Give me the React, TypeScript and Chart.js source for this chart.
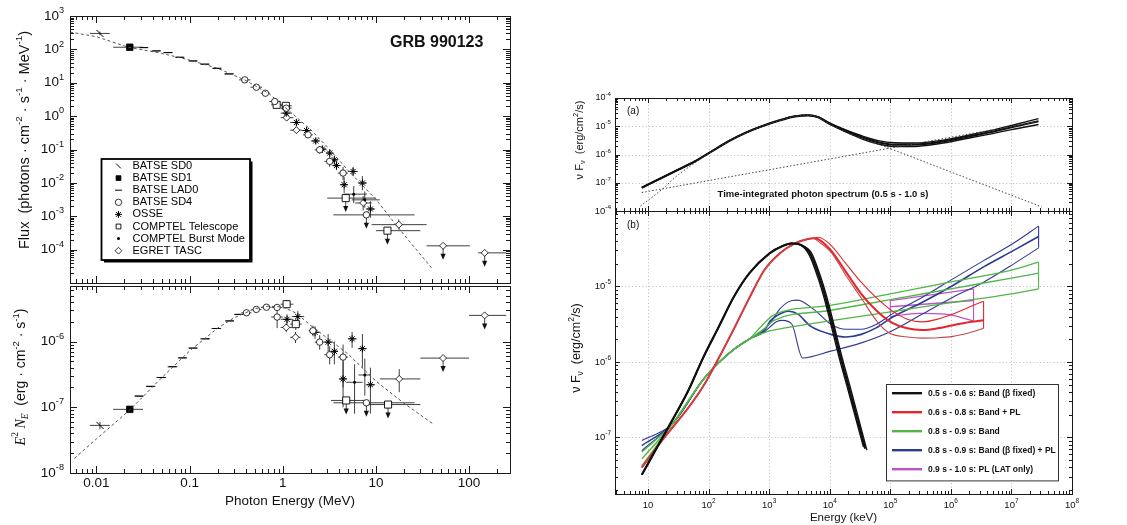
import { useEffect, useRef } from "react";
import { Chart, registerables } from "chart.js";
import { drawPoint } from "chart.js/helpers";

Chart.register(...registerables);

type Pt = { x: number; y: number; xl?: number; xh?: number; yl?: number; yh?: number; ul?: boolean };
type XY = [number, number];
type Run = { t: string; k?: "sup" | "sub"; it?: boolean; serif?: boolean; b?: boolean };

// ================= LEFT PANEL : GRB 990123 =================
const leftXTicks = [0.01, 0.1, 1, 10, 100];
const leftXTickLabels = ["0.01", "0.1", "1", "10", "100"];
const fluxYTicks = [1e3, 1e2, 1e1, 1, 1e-1, 1e-2, 1e-3, 1e-4];
const fluxYExps = ["3", "2", "1", "0", "-1", "-2", "-3", "-4"];
const nufYTicks = [1e-6, 1e-7, 1e-8];
const nufYExps = ["-6", "-7", "-8"];

const instrumentNames = [
  "BATSE SD0", "BATSE SD1", "BATSE LAD0", "BATSE SD4",
  "OSSE", "COMPTEL Telescope", "COMPTEL Burst Mode", "EGRET TASC",
];

// dashed Band model, photon flux
const fluxModelE = [0.0052, 0.01, 0.022, 0.05, 0.1, 0.2, 0.39, 0.7, 1, 2, 3, 5, 10, 20, 41];
const fluxModelF = [330, 240, 116, 76, 48, 27, 12.2, 4.9, 2.1, 0.39, 0.12, 0.024, 0.0032, 2.8e-4, 2.5e-5];
// dashed Band model, E^2 N_E
const nufModelE = [0.0058, 0.01, 0.0228, 0.05, 0.1, 0.2, 0.3, 0.5, 0.7, 1.0, 1.4, 2, 5, 10, 20, 41];
const nufModelV = [1.67e-8, 3.3e-8, 9.1e-8, 2.8e-7, 7.2e-7, 1.6e-6, 2.3e-6, 3.15e-6, 3.45e-6, 3.35e-6, 2.7e-6, 1.75e-6, 6.5e-7, 2.5e-7, 1.15e-7, 5.6e-8];

// ---- photon flux points ----
const fluxSD0: Pt[] = [{ x: 0.0109, y: 300, xl: 0.0085, xh: 0.0139, yl: 265, yh: 340 }];
const fluxSD1: Pt[] = [{ x: 0.0228, y: 116, xl: 0.0151, xh: 0.0316 }];
const fluxLAD0: Pt[] = [
  { x: 0.0322, y: 113, xl: 0.029, xh: 0.036 }, { x: 0.0441, y: 90, xl: 0.039, xh: 0.049 },
  { x: 0.0588, y: 80, xl: 0.052, xh: 0.066 }, { x: 0.0784, y: 58, xl: 0.07, xh: 0.088 },
  { x: 0.109, y: 45, xl: 0.097, xh: 0.122 }, { x: 0.146, y: 36, xl: 0.13, xh: 0.164 },
  { x: 0.197, y: 27, xl: 0.175, xh: 0.22 }, { x: 0.265, y: 18.4, xl: 0.235, xh: 0.3 },
];
const fluxSD4: Pt[] = [
  { x: 0.391, y: 12.2, xl: 0.34, xh: 0.45 }, { x: 0.521, y: 7.35, xl: 0.45, xh: 0.6 },
  { x: 0.651, y: 4.86, xl: 0.58, xh: 0.73 }, { x: 0.82, y: 2.74, xl: 0.72, xh: 0.94, yl: 2.3, yh: 3.2 },
  { x: 1.09, y: 1.73, xl: 0.95, xh: 1.25, yl: 1.4, yh: 2.1 }, { x: 1.87, y: 0.275, xl: 1.65, xh: 2.1, yl: 0.22, yh: 0.34 },
  { x: 2.49, y: 0.098, xl: 2.2, xh: 2.8, yl: 0.075, yh: 0.125 }, { x: 3.19, y: 0.044, xl: 2.8, xh: 3.6, yl: 0.03, yh: 0.06 },
  { x: 4.44, y: 0.0197, xl: 3.9, xh: 5.0, yl: 0.012, yh: 0.03 }, { x: 7.9, y: 0.0011, xl: 3.5, xh: 26, ul: true },
];
const fluxOSSE: Pt[] = [
  { x: 1.09, y: 1.23, xl: 0.95, xh: 1.25, yl: 1.0, yh: 1.5 }, { x: 1.4, y: 0.645, xl: 1.2, xh: 1.6, yl: 0.5, yh: 0.8 },
  { x: 1.8, y: 0.37, xl: 1.6, xh: 2.0, yl: 0.3, yh: 0.45 }, { x: 2.26, y: 0.18, xl: 2.0, xh: 2.5, yl: 0.15, yh: 0.22 },
  { x: 2.66, y: 0.103, xl: 2.4, xh: 2.95, yl: 0.08, yh: 0.13 }, { x: 3.19, y: 0.078, xl: 2.9, xh: 3.5, yl: 0.06, yh: 0.1 },
  { x: 3.58, y: 0.049, xl: 3.3, xh: 3.9, yl: 0.035, yh: 0.065 }, { x: 3.77, y: 0.033, xl: 3.4, xh: 4.2, yl: 0.024, yh: 0.045 },
  { x: 4.56, y: 0.0088, xl: 4.1, xh: 5.0, yl: 0.005, yh: 0.015 }, { x: 5.69, y: 0.022, xl: 5.0, xh: 6.4, yl: 0.016, yh: 0.03 },
  { x: 7.16, y: 0.0099, xl: 6.4, xh: 8.0, yl: 0.006, yh: 0.016 }, { x: 8.73, y: 0.00165, xl: 7.8, xh: 9.8, yl: 0.0009, yh: 0.0028 },
];
const fluxCompTel: Pt[] = [
  { x: 0.86, y: 2.18, xl: 0.75, xh: 1.0, yl: 1.8, yh: 2.6 }, { x: 1.08, y: 2.03, xl: 0.95, xh: 1.25, yl: 1.7, yh: 2.4 },
  { x: 4.74, y: 0.0035, xl: 3.0, xh: 10, ul: true }, { x: 13.3, y: 0.00037, xl: 10, xh: 30, ul: true },
];
const fluxCompBurst: Pt[] = [
  { x: 5.78, y: 0.0046, xl: 4.5, xh: 8, yl: 0.0025, yh: 0.008 }, { x: 7.59, y: 0.0031, xl: 5.5, xh: 11, yl: 0.0018, yh: 0.0055 },
];
const fluxEGRET: Pt[] = [
  { x: 1.1, y: 0.9, xl: 0.95, xh: 1.3, yl: 0.75, yh: 1.1 }, { x: 1.4, y: 0.38, xl: 1.2, xh: 1.6, yl: 0.3, yh: 0.47 },
  { x: 7.3, y: 0.0025, xl: 6, xh: 9, yl: 0.0015, yh: 0.004 }, { x: 17.6, y: 0.00056, xl: 9, xh: 35, yl: 0.0004, yh: 0.0008 },
  { x: 52.6, y: 0.00013, xl: 35, xh: 102, ul: true }, { x: 147, y: 0.00008, xl: 125, xh: 250, ul: true },
];

// ---- E^2 N_E points ----
const nufSD0: Pt[] = [{ x: 0.0109, y: 5.3e-8, xl: 0.0085, xh: 0.0139, yl: 4.6e-8, yh: 6.0e-8 }];
const nufSD1: Pt[] = [{ x: 0.0228, y: 9.3e-8, xl: 0.0151, xh: 0.0316 }];
const nufLAD0: Pt[] = [
  { x: 0.0287, y: 1.48e-7, xl: 0.0255, xh: 0.032 }, { x: 0.038, y: 2.08e-7, xl: 0.034, xh: 0.043 },
  { x: 0.0499, y: 2.84e-7, xl: 0.044, xh: 0.056 }, { x: 0.0655, y: 4.14e-7, xl: 0.058, xh: 0.074 },
  { x: 0.0838, y: 5.64e-7, xl: 0.075, xh: 0.094 }, { x: 0.109, y: 7.95e-7, xl: 0.097, xh: 0.122 },
  { x: 0.148, y: 1.1e-6, xl: 0.13, xh: 0.165 }, { x: 0.194, y: 1.58e-6, xl: 0.172, xh: 0.218 },
  { x: 0.27, y: 2.06e-6, xl: 0.24, xh: 0.3 }, { x: 0.34, y: 2.59e-6, xl: 0.3, xh: 0.38 },
];
const nufSD4: Pt[] = [
  { x: 0.408, y: 2.74e-6, xl: 0.36, xh: 0.46 }, { x: 0.52, y: 3.08e-6, xl: 0.46, xh: 0.59 },
  { x: 0.668, y: 3.33e-6, xl: 0.59, xh: 0.75 }, { x: 0.87, y: 3.3e-6, xl: 0.76, xh: 0.98 },
  { x: 0.87, y: 2.36e-6, xl: 0.75, xh: 1.0, yl: 1.6e-6, yh: 3.1e-6 }, { x: 2.11, y: 1.46e-6, xl: 1.9, xh: 2.35, yl: 1.2e-6, yh: 1.75e-6 },
  { x: 2.49, y: 9.8e-7, xl: 2.2, xh: 2.8, yl: 7.5e-7, yh: 1.25e-6 }, { x: 3.19, y: 6.3e-7, xl: 2.8, xh: 3.6, yl: 4.5e-7, yh: 8.5e-7 },
  { x: 4.44, y: 5.8e-7, xl: 3.9, xh: 5.0, yl: 2.0e-7, yh: 9.0e-7 }, { x: 7.9, y: 1.17e-7, xl: 3.5, xh: 26, ul: true },
];
const nufOSSE: Pt[] = [
  { x: 1.11, y: 2.18e-6, xl: 0.95, xh: 1.3, yl: 1.8e-6, yh: 2.6e-6 }, { x: 1.45, y: 2.4e-6, xl: 1.25, xh: 1.7, yl: 2.0e-6, yh: 2.9e-6 },
  { x: 2.22, y: 1.38e-6, xl: 1.95, xh: 2.5, yl: 1.1e-6, yh: 1.7e-6 }, { x: 3.07, y: 9.8e-7, xl: 2.8, xh: 3.4, yl: 7e-7, yh: 1.3e-6 },
  { x: 3.58, y: 7.1e-7, xl: 3.3, xh: 3.9, yl: 4.5e-7, yh: 1.0e-6 }, { x: 4.44, y: 2.7e-7, xl: 4.0, xh: 4.9, yl: 1.0e-7, yh: 5.0e-7 },
  { x: 5.55, y: 1.1e-6, xl: 5.0, xh: 6.2, yl: 8.0e-7, yh: 1.4e-6 }, { x: 7.16, y: 7.8e-7, xl: 6.4, xh: 8.0, yl: 4.0e-7, yh: 1.3e-6 },
  { x: 8.73, y: 2.2e-7, xl: 7.8, xh: 9.8, yl: 8.0e-8, yh: 4.0e-7 },
];
const nufCompTel: Pt[] = [
  { x: 1.1, y: 3.7e-6, xl: 0.95, xh: 1.3, yl: 3.2e-6, yh: 4.3e-6 }, { x: 1.38, y: 1.84e-6, xl: 1.2, xh: 1.6, yl: 1.5e-6, yh: 2.2e-6 },
  { x: 4.8, y: 1.27e-7, xl: 3.3, xh: 7.9, ul: true }, { x: 13.5, y: 1.1e-7, xl: 7.9, xh: 30, ul: true },
];
const nufCompBurst: Pt[] = [
  { x: 5.9, y: 2.4e-7, xl: 4.8, xh: 7.2, yl: 8e-8, yh: 4.5e-7 }, { x: 7.6, y: 3.1e-7, xl: 6.5, xh: 8.8, yl: 1.5e-7, yh: 5.5e-7 },
];
const nufEGRET: Pt[] = [
  { x: 1.09, y: 1.64e-6, xl: 0.95, xh: 1.25, yl: 1.4e-6, yh: 1.9e-6 }, { x: 1.37, y: 1.16e-6, xl: 1.2, xh: 1.55, yl: 9.5e-7, yh: 1.4e-6 },
  { x: 17.8, y: 2.7e-7, xl: 11, xh: 30, yl: 1.7e-7, yh: 3.8e-7 }, { x: 52.6, y: 5.6e-7, xl: 30, xh: 100, ul: true },
  { x: 147, y: 2.5e-6, xl: 100, xh: 250, ul: true },
];

// ================= RIGHT PANEL : nuFnu spectra =================
const rightXTicks = [10, 1e2, 1e3, 1e4, 1e5, 1e6, 1e7, 1e8];
const rightXExps = ["", "2", "3", "4", "5", "6", "7", "8"];
const rightYTicks = [1e-4, 1e-5, 1e-6, 1e-7];
const rightYExps = ["-4", "-5", "-6", "-7"];

// (a) time-integrated spectrum
const aRise: XY[] = [[7.9, 6.7e-8], [17, 1.51e-7], [32, 2.95e-7], [60, 5.8e-7], [114, 1.32e-6], [214, 2.95e-6], [402, 5.8e-6], [757, 1.0e-5], [1430, 1.58e-5], [2690, 2.25e-5], [4450, 2.44e-5]];
const aTailMid: XY[] = [[6500, 2.09e-5], [9500, 1.31e-5], [1.79e4, 7.0e-6], [3.37e4, 4.1e-6], [6.3e4, 2.72e-6], [1.19e5, 2.25e-6], [2.25e5, 2.25e-6], [4.23e5, 2.44e-6], [7.96e5, 2.96e-6], [1.5e6, 3.87e-6], [2.82e6, 5.08e-6], [5.3e6, 6.67e-6], [1e7, 9.2e-6], [2.8e7, 1.5e-5]];
const aTailHi: XY[] = [[6500, 2.12e-5], [9500, 1.38e-5], [1.79e4, 7.6e-6], [3.37e4, 4.6e-6], [6.3e4, 3.1e-6], [1.19e5, 2.6e-6], [2.25e5, 2.55e-6], [4.23e5, 2.75e-6], [7.96e5, 3.3e-6], [1.5e6, 4.3e-6], [2.82e6, 5.7e-6], [5.3e6, 7.6e-6], [1e7, 1.06e-5], [2.8e7, 1.86e-5]];
const aTailLo: XY[] = [[6500, 2.06e-5], [9500, 1.25e-5], [1.79e4, 6.4e-6], [3.37e4, 3.6e-6], [6.3e4, 2.35e-6], [1.19e5, 1.92e-6], [2.25e5, 1.92e-6], [4.23e5, 2.12e-6], [7.96e5, 2.6e-6], [1.5e6, 3.4e-6], [2.82e6, 4.4e-6], [5.3e6, 5.7e-6], [1e7, 7.6e-6], [2.8e7, 1.15e-5]];
const aBandComp: XY[] = [[7.5, 1.5e-8], [17, 5.8e-8], [32, 1.97e-7], [60, 5.1e-7], [114, 1.3e-6], [214, 2.9e-6], [402, 5.7e-6], [757, 9.9e-6], [1430, 1.57e-5], [2690, 2.24e-5], [4450, 2.43e-5], [6500, 2.05e-5], [9500, 1.27e-5], [1.79e4, 6.4e-6], [3.16e4, 3.9e-6], [1e5, 1.6e-6], [1e6, 2.4e-7], [1e7, 3.6e-8], [3.16e7, 1.4e-8]];
const aPLComp: XY[] = [[7.9, 4.5e-8], [2.5e7, 1.4e-5]];

// (b) time-resolved spectra
const bBlackRise: XY[] = [[7.9, 3.2e-8], [15.8, 8.7e-8], [30.2, 2.2e-7], [45.4, 4.05e-7], [81, 1.13e-6], [145, 2.85e-6], [259, 7.2e-6], [465, 1.48e-5], [1010, 2.74e-5], [1670, 3.44e-5], [2370, 3.72e-5], [3350, 3.54e-5]];
const bBlackTail1: XY[] = [[4750, 2.74e-5], [6730, 1.33e-5], [8490, 7.2e-6], [1.07e4, 3.5e-6], [1.52e4, 1.13e-6], [2.15e4, 4.05e-7], [3.85e4, 7.1e-8]];
const bBlackTail2: XY[] = [[4600, 2.6e-5], [6400, 1.3e-5], [8100, 7.0e-6], [1.02e4, 3.4e-6], [1.45e4, 1.1e-6], [2.05e4, 4.0e-7], [3.6e4, 7.5e-8]];
const bBlackTail3: XY[] = [[4900, 2.85e-5], [7000, 1.38e-5], [8900, 7.4e-6], [1.12e4, 3.6e-6], [1.6e4, 1.15e-6], [2.27e4, 4.1e-7], [4.1e4, 6.8e-8]];

const bRedRise: XY[] = [[7.9, 4.0e-8], [17.9, 9.6e-8], [45.4, 2.42e-7], [81, 4.72e-7], [145, 1.1e-6], [259, 2.7e-6], [465, 6.9e-6], [830, 1.64e-5], [1490, 2.74e-5], [2650, 3.72e-5], [4230, 4.22e-5], [5330, 4.35e-5]];
const bRedTail1: XY[] = [[6500, 4.22e-5], [1.04e4, 3.03e-5], [1.85e4, 1.56e-5], [3.31e4, 7.98e-6], [5.93e4, 4.78e-6], [1.06e5, 3.33e-6], [1.9e5, 2.79e-6], [3.39e5, 2.65e-6], [6.07e5, 2.79e-6], [1.08e6, 3.07e-6], [2.18e6, 3.4e-6], [3.47e6, 3.58e-6]];
const bRedTail2: XY[] = [[6500, 4.49e-5], [1.04e4, 3.54e-5], [1.85e4, 2.01e-5], [3.31e4, 1.14e-5], [5.93e4, 7.05e-6], [1.06e5, 4.78e-6], [1.9e5, 3.69e-6], [3.39e5, 3.4e-6], [6.07e5, 3.69e-6], [1.08e6, 4.31e-6], [1.94e6, 5.28e-6], [3.47e6, 6.37e-6]];
const bRedTail3: XY[] = [[6500, 3.93e-5], [1.04e4, 2.88e-5], [1.85e4, 1.4e-5], [3.31e4, 7.05e-6], [5.93e4, 3.51e-6], [9.44e4, 2.44e-6], [1.9e5, 2.14e-6], [3.39e5, 2.07e-6], [6.07e5, 2.09e-6], [1.08e6, 2.18e-6], [1.94e6, 2.42e-6], [3.47e6, 2.79e-6]];
const bRedEdge: XY[] = [[3.47e6, 2.79e-6], [3.47e6, 6.37e-6]];

const bBundle: XY[] = [[25.4, 1.52e-7], [81, 5.8e-7], [145, 9.7e-7], [259, 1.46e-6], [465, 2.0e-6]];
const bGreenTail1: XY[] = [[750, 3.0e-6], [1200, 4.2e-6], [1e4, 5.6e-6], [1e5, 8.0e-6], [1e6, 1.15e-5], [1e7, 1.65e-5], [2.81e7, 2.1e-5]];
const bGreenTail2: XY[] = [[800, 2.7e-6], [1200, 3.55e-6], [1e4, 4.8e-6], [1e5, 6.7e-6], [1e6, 9.3e-6], [1e7, 1.29e-5], [2.81e7, 1.5e-5]];
const bGreenTail3: XY[] = [[900, 2.5e-6], [1300, 2.68e-6], [1e4, 3.5e-6], [1e5, 4.6e-6], [1e6, 6.1e-6], [1e7, 8.0e-6], [2.81e7, 9.3e-6]];
const bGreenStart: XY[] = [[7.9, 6.4e-8], [7.9, 5.2e-8], [7.9, 4.2e-8]];
const bGreenEdge: XY[] = [[2.81e7, 9.3e-6], [2.81e7, 2.1e-5]];

const bBlueStart: XY[] = [[7.9, 9.1e-8], [7.9, 7.8e-8], [7.9, 6.7e-8]];
const bBlueTail1: XY[] = [[830, 2.7e-6], [1050, 3.3e-6], [1490, 5.0e-6], [2100, 6.3e-6], [2820, 6.6e-6], [3240, 6.5e-6], [5790, 4.78e-6], [1.04e4, 3.16e-6], [1.85e4, 2.71e-6], [3.31e4, 2.71e-6], [5.93e4, 3.16e-6], [1.06e5, 4.3e-6], [3.39e5, 7.2e-6], [1.08e6, 1.26e-5], [3.47e6, 2.2e-5], [1.11e7, 3.8e-5], [2.81e7, 6.3e-5]];
const bBlueTail2: XY[] = [[830, 2.6e-6], [1050, 3.5e-6], [1670, 4.5e-6], [2100, 4.7e-6], [2990, 4.3e-6], [4750, 3.0e-6], [1.04e4, 2.32e-6], [1.85e4, 2.14e-6], [3.31e4, 2.32e-6], [5.93e4, 2.85e-6], [1.06e5, 3.88e-6], [3.39e5, 6.17e-6], [1.08e6, 1.03e-5], [3.47e6, 1.82e-5], [1.11e7, 3.03e-5], [2.81e7, 4.6e-5]];
const bBlueTail3: XY[] = [[830, 2.5e-6], [1320, 3.4e-6], [1670, 3.55e-6], [2370, 3.16e-6], [3560, 1.13e-6], [1.04e4, 1.39e-6], [3.31e4, 1.79e-6], [1.06e5, 2.58e-6], [3.39e5, 4.31e-6], [1.08e6, 7.2e-6], [3.47e6, 1.14e-5], [1.11e7, 2.01e-5], [2.81e7, 3.25e-5]];
const bBlueEdge: XY[] = [[2.81e7, 3.25e-5], [2.81e7, 6.3e-5]];

const bMag1: XY[] = [[1e5, 6.5e-6], [2.37e6, 9.3e-6]];
const bMag2: XY[] = [[1e5, 5.4e-6], [2.37e6, 6.5e-6]];
const bMag3: XY[] = [[1e5, 4.0e-6], [3e5, 4.4e-6], [8e5, 4.3e-6], [2.37e6, 3.5e-6]];
const bMagEdgeL: XY[] = [[1e5, 4.0e-6], [1e5, 6.5e-6]];
const bMagEdgeR: XY[] = [[2.37e6, 3.5e-6], [2.37e6, 9.3e-6]];

const legendTexts = [
  "0.5 s - 0.6 s: Band (\u03B2 fixed)",
  "0.6 s - 0.8 s: Band + PL",
  "0.8 s - 0.9 s: Band",
  "0.8 s - 0.9 s: Band (\u03B2 fixed) + PL",
  "0.9 s - 1.0 s: PL (LAT only)",
];
const BLACK = "#111111";
const RED = "#e3262b";
const RED_DARK = "#c24a4c";
const GREEN = "#52b547";
const BLUE = "#2d3a94";
const MAGENTA = "#bf52c8";
const legendColors = [BLACK, RED, GREEN, BLUE, MAGENTA];

// ================= drawing helpers =================
const SANS = '"Liberation Sans", Arial, Helvetica, sans-serif';
const SERIF = '"Liberation Serif", "Times New Roman", serif';

function fontOf(r: Run, size: number) {
  const s = r.k ? size * 0.68 : size;
  return `${r.it ? "italic " : ""}${r.b ? "bold " : ""}${s.toFixed(2)}px ${r.serif ? SERIF : SANS}`;
}
function runsWidth(ctx: CanvasRenderingContext2D, runs: Run[], size: number) {
  let w = 0;
  for (const r of runs) { ctx.font = fontOf(r, size); w += ctx.measureText(r.t).width; }
  return w;
}
function drawRuns(ctx: CanvasRenderingContext2D, runs: Run[], x: number, y: number, size: number, align: "left" | "center" | "right") {
  const w = runsWidth(ctx, runs, size);
  let cx = align === "center" ? x - w / 2 : align === "right" ? x - w : x;
  ctx.textAlign = "left";
  ctx.textBaseline = "middle";
  for (const r of runs) {
    ctx.font = fontOf(r, size);
    const dy = r.k === "sup" ? -size * 0.4 : r.k === "sub" ? size * 0.28 : 0;
    ctx.fillText(r.t, cx, y + dy);
    cx += ctx.measureText(r.t).width;
  }
}
const pow = (e: string): Run[] => (e === "" ? [{ t: "10" }] : [{ t: "10" }, { t: e, k: "sup" }]);

function logTicks(min: number, max: number) {
  const out: { v: number; major: boolean }[] = [];
  const d0 = Math.floor(Math.log10(min)), d1 = Math.ceil(Math.log10(max));
  for (let d = d0; d <= d1; d++) {
    for (let m = 1; m <= 9; m++) {
      const v = m * Math.pow(10, d);
      if (v >= min * 0.9999 && v <= max * 1.0001) out.push({ v, major: m === 1 });
    }
  }
  return out;
}

type Deco = {
  major: number; minor: number; grid?: boolean;
  xLabels?: { values: number[]; runs: Run[][]; size: number; dy: number };
  yLabels?: { values: number[]; runs: Run[][]; size: number; gap: number };
  xTitle?: { runs: Run[]; size: number; dy: number };
  yTitle?: { runs: Run[]; size: number; x: number; yc: number };
  notes?: { runs: Run[]; size: number; x: number; y: number; align: "left" | "center" | "right" }[];
  pointLegend?: { x: number; y: number; w: number; h: number; row0: number; rowH: number; symX: number; textX: number; size: number; items: number[] };
  lineLegend?: { x: number; y: number; w: number; h: number; row0: number; rowH: number; l0: number; l1: number; textX: number; size: number; colors: string[]; texts: string[] };
};

function makeDeco(o: Deco) {
  return {
    id: "deco",
    beforeDatasetsDraw(chart: any) {
      const { ctx, chartArea: a } = chart;
      const xs = chart.scales.x, ys = chart.scales.y;
      if (o.grid) {
        ctx.save();
        ctx.strokeStyle = "#b5b5b5"; ctx.lineWidth = 0.8; ctx.setLineDash([1.2, 2.2]);
        ctx.beginPath();
        for (const t of logTicks(xs.min, xs.max)) {
          if (!t.major) continue;
          const p = Math.round(xs.getPixelForValue(t.v)) + 0.5;
          if (p <= a.left + 1 || p >= a.right - 1) continue;
          ctx.moveTo(p, a.top); ctx.lineTo(p, a.bottom);
        }
        for (const t of logTicks(ys.min, ys.max)) {
          if (!t.major) continue;
          const p = Math.round(ys.getPixelForValue(t.v)) + 0.5;
          if (p <= a.top + 1 || p >= a.bottom - 1) continue;
          ctx.moveTo(a.left, p); ctx.lineTo(a.right, p);
        }
        ctx.stroke();
        ctx.restore();
      }
      // error bars and upper limits
      ctx.save();
      ctx.beginPath(); ctx.rect(a.left, a.top, a.width, a.height); ctx.clip();
      ctx.strokeStyle = "#2a2a2a"; ctx.fillStyle = "#111"; ctx.lineWidth = 0.9;
      chart.data.datasets.forEach((ds: any) => {
        if (!ds.eb) return;
        for (const p of ds.data as Pt[]) {
          const px = xs.getPixelForValue(p.x), py = ys.getPixelForValue(p.y);
          ctx.beginPath();
          if (p.xl && p.xh) { ctx.moveTo(xs.getPixelForValue(p.xl), py); ctx.lineTo(xs.getPixelForValue(p.xh), py); }
          if (p.yl && p.yh) { ctx.moveTo(px, ys.getPixelForValue(p.yl)); ctx.lineTo(px, ys.getPixelForValue(p.yh)); }
          ctx.stroke();
          if (p.ul) {
            ctx.beginPath(); ctx.moveTo(px, py); ctx.lineTo(px, py + 9); ctx.stroke();
            ctx.beginPath(); ctx.moveTo(px - 2.6, py + 8); ctx.lineTo(px + 2.6, py + 8); ctx.lineTo(px, py + 14); ctx.closePath(); ctx.fill();
          }
        }
      });
      ctx.restore();
    },
    afterDatasetsDraw(chart: any) {
      const { ctx, chartArea: a } = chart;
      const xs = chart.scales.x, ys = chart.scales.y;
      ctx.save();
      ctx.strokeStyle = "#1a1a1a"; ctx.lineWidth = 1;
      ctx.beginPath();
      for (const t of logTicks(xs.min, xs.max)) {
        const p = Math.round(xs.getPixelForValue(t.v)) + 0.5;
        if (p <= a.left + 1 || p >= a.right - 1) continue;
        const L = t.major ? o.major : o.minor;
        ctx.moveTo(p, a.top); ctx.lineTo(p, a.top + L);
        ctx.moveTo(p, a.bottom); ctx.lineTo(p, a.bottom - L);
      }
      for (const t of logTicks(ys.min, ys.max)) {
        const p = Math.round(ys.getPixelForValue(t.v)) + 0.5;
        if (p <= a.top + 1 || p >= a.bottom - 1) continue;
        const L = t.major ? o.major : o.minor;
        ctx.moveTo(a.left, p); ctx.lineTo(a.left + L, p);
        ctx.moveTo(a.right, p); ctx.lineTo(a.right - L, p);
      }
      ctx.stroke();
      ctx.strokeRect(Math.round(a.left) + 0.5, Math.round(a.top) + 0.5, Math.round(a.width), Math.round(a.height));

      ctx.fillStyle = "#111";
      if (o.xLabels) {
        const L = o.xLabels;
        L.values.forEach((v, i) => drawRuns(ctx, L.runs[i], xs.getPixelForValue(v), a.bottom + L.dy, L.size, "center"));
      }
      if (o.yLabels) {
        const L = o.yLabels;
        L.values.forEach((v, i) => drawRuns(ctx, L.runs[i], a.left - L.gap, ys.getPixelForValue(v), L.size, "right"));
      }
      if (o.xTitle) drawRuns(ctx, o.xTitle.runs, (a.left + a.right) / 2, a.bottom + o.xTitle.dy, o.xTitle.size, "center");
      if (o.yTitle) {
        ctx.save();
        ctx.translate(o.yTitle.x, o.yTitle.yc);
        ctx.rotate(-Math.PI / 2);
        drawRuns(ctx, o.yTitle.runs, 0, 0, o.yTitle.size, "center");
        ctx.restore();
      }
      for (const n of o.notes || []) drawRuns(ctx, n.runs, a.left + n.x, a.top + n.y, n.size, n.align);

      if (o.pointLegend) {
        const L = o.pointLegend;
        const x0 = a.left + L.x, y0 = a.top + L.y;
        ctx.fillStyle = "#000"; ctx.fillRect(x0 + 2.5, y0 + 2.5, L.w, L.h);
        ctx.fillStyle = "#fff"; ctx.fillRect(x0, y0, L.w, L.h);
        ctx.strokeStyle = "#000"; ctx.lineWidth = 1.8; ctx.strokeRect(x0, y0, L.w, L.h);
        L.items.forEach((di, k) => {
          const ds = chart.data.datasets[di];
          const y = y0 + L.row0 + k * L.rowH;
          ctx.fillStyle = ds.pointBackgroundColor; ctx.strokeStyle = "#000"; ctx.lineWidth = ds.pointBorderWidth || 1;
          drawPoint(ctx, { pointStyle: ds.pointStyle, rotation: ds.pointRotation || 0, radius: Math.min(ds.pointRadius, 3.4), borderWidth: ds.pointBorderWidth } as any, x0 + L.symX, y);
          ctx.fillStyle = "#000";
          drawRuns(ctx, [{ t: ds.label }], x0 + L.textX, y, L.size, "left");
        });
      }
      if (o.lineLegend) {
        const L = o.lineLegend;
        const x0 = a.left + L.x, y0 = a.top + L.y;
        ctx.fillStyle = "#fff"; ctx.fillRect(x0, y0, L.w, L.h);
        ctx.strokeStyle = "#333"; ctx.lineWidth = 1; ctx.strokeRect(Math.round(x0) + 0.5, Math.round(y0) + 0.5, L.w, L.h);
        L.texts.forEach((t, k) => {
          const y = y0 + L.row0 + k * L.rowH;
          ctx.strokeStyle = L.colors[k]; ctx.lineWidth = 2.4;
          ctx.beginPath(); ctx.moveTo(x0 + L.l0, y); ctx.lineTo(x0 + L.l1, y); ctx.stroke();
          ctx.fillStyle = "#111";
          drawRuns(ctx, [{ t, b: true }], x0 + L.textX, y, L.size, "left");
        });
      }
      ctx.restore();
    },
  };
}

function baseOptions(xMin: number, xMax: number, yMin: number, yMax: number, yW: number, xH: number, pad: { top: number; right: number }) {
  return {
    animation: false as const,
    responsive: false,
    maintainAspectRatio: false,
    devicePixelRatio: 1,
    events: [] as any[],
    layout: { padding: { top: pad.top, right: pad.right, left: 0, bottom: 0 } },
    plugins: { legend: { display: false }, tooltip: { enabled: false } },
    scales: {
      x: {
        type: "logarithmic" as const, min: xMin, max: xMax,
        grid: { display: false, drawTicks: false }, border: { display: false }, ticks: { display: false },
        afterFit: (s: any) => { s.height = xH; },
      },
      y: {
        type: "logarithmic" as const, min: yMin, max: yMax,
        grid: { display: false, drawTicks: false }, border: { display: false }, ticks: { display: false },
        afterFit: (s: any) => { s.width = yW; },
      },
    },
  };
}

const instrStyles = [
  { ps: "line", rot: 45, r: 5, fill: "#000", bw: 1 },
  { ps: "rect", rot: 0, r: 4.6, fill: "#000", bw: 0.8 },
  { ps: "line", rot: 0, r: 4, fill: "#000", bw: 1 },
  { ps: "circle", rot: 0, r: 3.2, fill: "#fff", bw: 0.8 },
  { ps: "star", rot: 0, r: 3.6, fill: "#000", bw: 1 },
  { ps: "rect", rot: 0, r: 5, fill: "#fff", bw: 0.9 },
  { ps: "circle", rot: 0, r: 1.5, fill: "#000", bw: 0 },
  { ps: "rectRot", rot: 0, r: 3.5, fill: "#fff", bw: 0.8 },
];

function instrDatasets(sets: Pt[][]) {
  return sets.map((data, i) => {
    const s = instrStyles[i];
    return {
      label: instrumentNames[i], data, eb: true, showLine: false,
      pointStyle: s.ps, pointRotation: s.rot, pointRadius: s.r,
      pointBackgroundColor: s.fill, pointBorderColor: "#000", pointBorderWidth: s.bw,
    } as any;
  });
}

function modelDataset(xs: number[], ys: number[]) {
  return {
    label: "model", data: xs.map((x, i) => ({ x, y: ys[i] })), showLine: true,
    borderColor: "#555", borderWidth: 1, borderDash: [3, 2.5], pointRadius: 0, tension: 0,
  } as any;
}

function curve(pts: XY[], color: string, width = 1.3, dash: number[] = []) {
  return {
    data: pts.map(([x, y]) => ({ x, y })), showLine: true, borderColor: color, borderWidth: width,
    borderDash: dash, pointRadius: 0, tension: 0.4, cubicInterpolationMode: "monotone",
  } as any;
}
function straight(pts: XY[], color: string, width = 1.2, dash: number[] = []) {
  return { data: pts.map(([x, y]) => ({ x, y })), showLine: true, borderColor: color, borderWidth: width, borderDash: dash, pointRadius: 0, tension: 0 } as any;
}

const fluxTitle: Run[] = [
  { t: "Flux  (photons \u00B7 cm" }, { t: "-2", k: "sup" }, { t: " \u00B7 s" }, { t: "-1", k: "sup" },
  { t: " \u00B7 MeV" }, { t: "-1", k: "sup" }, { t: ")" },
];
const e2Title: Run[] = [
  { t: "E", it: true, serif: true }, { t: "2", k: "sup", serif: true }, { t: " N", it: true, serif: true },
  { t: "E", k: "sub", it: true, serif: true }, { t: "  (erg \u00B7 cm" }, { t: "-2", k: "sup" }, { t: " \u00B7 s" }, { t: "-1", k: "sup" }, { t: ")" },
];
const nuTitle: Run[] = [{ t: "\u03BD F" }, { t: "\u03BD", k: "sub" }, { t: "  (erg/cm" }, { t: "2", k: "sup" }, { t: "/s)" }];

function makeLeftTop() {
  return {
    type: "scatter",
    data: {
      datasets: [
        modelDataset(fluxModelE, fluxModelF),
        ...instrDatasets([fluxSD0, fluxSD1, fluxLAD0, fluxSD4, fluxOSSE, fluxCompTel, fluxCompBurst, fluxEGRET]),
      ],
    },
    options: baseOptions(0.0052, 275, 1e-5, 1e3, 70, 7, { top: 16, right: 20 }),
    plugins: [makeDeco({
      major: 7, minor: 4,
      yLabels: { values: fluxYTicks, runs: fluxYExps.map(pow), size: 13.5, gap: 6 },
      yTitle: { runs: fluxTitle, size: 14.5, x: 25, yc: 140 },
      notes: [{ runs: [{ t: "GRB 990123", b: true }], size: 16, x: 320, y: 27, align: "left" }],
      pointLegend: { x: 31.5, y: 143, w: 148.5, h: 101, row0: 7, rowH: 12.1, symX: 17, textX: 31, size: 11, items: [1, 2, 3, 4, 5, 6, 7, 8] },
    })],
  } as any;
}

function makeLeftBottom() {
  return {
    type: "scatter",
    data: {
      datasets: [
        modelDataset(nufModelE, nufModelV),
        ...instrDatasets([nufSD0, nufSD1, nufLAD0, nufSD4, nufOSSE, nufCompTel, nufCompBurst, nufEGRET]),
      ],
    },
    options: baseOptions(0.0052, 275, 1e-8, 7e-6, 70, 52, { top: 3, right: 20 }),
    plugins: [makeDeco({
      major: 7, minor: 4,
      xLabels: { values: leftXTicks, runs: leftXTickLabels.map((t) => [{ t }]), size: 13.5, dy: 10 },
      xTitle: { runs: [{ t: "Photon Energy (MeV)" }], size: 13.5, dy: 28 },
      yLabels: { values: nufYTicks, runs: nufYExps.map(pow), size: 13.5, gap: 6 },
      yTitle: { runs: e2Title, size: 14, x: 21.5, yc: 97 },
    })],
  } as any;
}

function makeRightA() {
  return {
    type: "scatter",
    data: {
      datasets: [
        curve(aBandComp, "#444", 1, [1.5, 2]),
        straight(aPLComp, "#444", 1, [1.5, 2]),
        curve([...aRise, ...aTailHi], BLACK, 1.4),
        curve([...aRise, ...aTailLo], BLACK, 1.4),
        curve([...aRise, ...aTailMid], BLACK, 2.2),
      ],
    },
    options: baseOptions(2.85, 1e8, 1e-8, 1e-4, 55, 4, { top: 8, right: 55 }),
    plugins: [makeDeco({
      major: 5, minor: 3, grid: true,
      yLabels: { values: rightYTicks, runs: rightYExps.map(pow), size: 9, gap: 4 },
      yTitle: { runs: nuTitle, size: 11, x: 20, yc: 50 },
      notes: [
        { runs: [{ t: "(a)" }], size: 10, x: 12, y: 13.5, align: "left" },
        { runs: [{ t: "Time-integrated photon spectrum (0.5 s - 1.0 s)", b: true }], size: 9.5, x: 208, y: 96, align: "center" },
      ],
    })],
  } as any;
}

function makeRightB() {
  return {
    type: "scatter",
    data: {
      datasets: [
        curve([...bBlackRise, ...bBlackTail2], BLACK, 1.4),
        curve([...bBlackRise, ...bBlackTail3], BLACK, 1.4),
        curve([...bBlackRise, ...bBlackTail1], BLACK, 2.2),
        curve([...bRedRise, ...bRedTail3], RED_DARK, 1.1),
        curve([...bRedRise, ...bRedTail2], RED, 1.1),
        curve([...bRedRise, ...bRedTail1], RED, 2.0),
        straight(bRedEdge, RED, 1.1),
        curve([bGreenStart[0], ...bBundle, ...bGreenTail1], GREEN, 1.3),
        curve([bGreenStart[1], ...bBundle, ...bGreenTail2], GREEN, 1.4),
        curve([bGreenStart[2], ...bBundle, ...bGreenTail3], GREEN, 1.3),
        straight(bGreenEdge, GREEN, 1.1),
        curve([bBlueStart[0], ...bBundle, ...bBlueTail1], BLUE, 1.1),
        curve([bBlueStart[1], ...bBundle, ...bBlueTail2], BLUE, 1.6),
        curve([bBlueStart[2], ...bBundle, ...bBlueTail3], BLUE, 1.1),
        straight(bBlueEdge, BLUE, 1.1),
        straight(bMag1, MAGENTA, 1.2),
        straight(bMag2, MAGENTA, 1.5),
        curve(bMag3, MAGENTA, 1.2),
        straight(bMagEdgeL, MAGENTA, 1.1),
        straight(bMagEdgeR, MAGENTA, 1.1),
      ],
    },
    options: baseOptions(2.85, 1e8, 1.78e-8, 1e-4, 55, 31, { top: 6, right: 55 }),
    plugins: [makeDeco({
      major: 5, minor: 3, grid: true,
      xLabels: { values: rightXTicks, runs: rightXExps.map(pow), size: 9.5, dy: 11 },
      xTitle: { runs: [{ t: "Energy (keV)" }], size: 11.5, dy: 24 },
      yLabels: { values: rightYTicks, runs: rightYExps.map(pow), size: 9.5, gap: 4 },
      yTitle: { runs: nuTitle, size: 12.5, x: 17, yc: 143 },
      notes: [{ runs: [{ t: "(b)" }], size: 10, x: 12, y: 14, align: "left" }],
      lineLegend: { x: 271, y: 172.6, w: 172, h: 96.4, row0: 9.6, rowH: 19, l0: 6, l1: 36, textX: 42, size: 8.5, colors: legendColors, texts: legendTexts },
    })],
  } as any;
}

function ChartCanvas({ left, top, width, height, make }: { left: number; top: number; width: number; height: number; make: () => any }) {
  const ref = useRef<HTMLCanvasElement>(null);
  useEffect(() => {
    const chart = new Chart(ref.current as HTMLCanvasElement, make());
    return () => chart.destroy();
  }, []);
  return <canvas ref={ref} width={width} height={height} style={{ position: "absolute", left, top, width, height }} />;
}

export default function App() {
  return (
    <div style={{ position: "absolute", left: 0, top: 0, width: 1127, height: 525, background: "#fff", overflow: "hidden" }}>
      <ChartCanvas left={0} top={0} width={530} height={290} make={makeLeftTop} />
      <ChartCanvas left={0} top={280} width={530} height={245} make={makeLeftBottom} />
      <ChartCanvas left={560} top={90} width={567} height={125} make={makeRightA} />
      <ChartCanvas left={560} top={205} width={567} height={320} make={makeRightB} />
    </div>
  );
}
